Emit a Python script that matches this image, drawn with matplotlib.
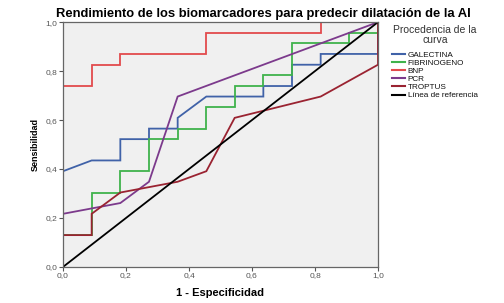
import matplotlib.pyplot as plt

# ROC curve points (1 - specificity, sensitivity)
galectina_x = [0, 0, 0.091, 0.182, 0.182, 0.273, 0.273, 0.364, 0.364, 0.455, 0.636, 0.636, 0.727, 0.727, 0.818, 0.818, 1, 1]
galectina_y = [0, 0.391, 0.435, 0.435, 0.522, 0.522, 0.565, 0.565, 0.609, 0.696, 0.696, 0.739, 0.739, 0.826, 0.826, 0.870, 0.870, 1]

fibrinogeno_x = [0, 0, 0.091, 0.091, 0.182, 0.182, 0.273, 0.273, 0.364, 0.364, 0.455, 0.455, 0.545, 0.545, 0.636, 0.636, 0.727, 0.727, 0.909, 0.909, 1, 1]
fibrinogeno_y = [0, 0.130, 0.130, 0.304, 0.304, 0.391, 0.391, 0.522, 0.522, 0.565, 0.565, 0.652, 0.652, 0.739, 0.739, 0.783, 0.783, 0.913, 0.913, 0.957, 0.957, 1]

bnp_x = [0, 0, 0.091, 0.091, 0.182, 0.182, 0.455, 0.455, 0.818, 0.818, 1]
bnp_y = [0, 0.739, 0.739, 0.826, 0.826, 0.870, 0.870, 0.957, 0.957, 1, 1]

pcr_x = [0, 0, 0.182, 0.273, 0.364, 1]
pcr_y = [0, 0.217, 0.261, 0.348, 0.696, 1]

troptus_x = [0, 0, 0.091, 0.091, 0.182, 0.364, 0.455, 0.545, 0.818, 1, 1]
troptus_y = [0, 0.130, 0.130, 0.217, 0.304, 0.348, 0.391, 0.609, 0.696, 0.826, 1]

ref_x = [0, 1]
ref_y = [0, 1]

curves = [
    ("GALECTINA", galectina_x, galectina_y, "#4062a8"),
    ("FIBRINOGENO", fibrinogeno_x, fibrinogeno_y, "#3fb34c"),
    ("BNP", bnp_x, bnp_y, "#e24a4d"),
    ("PCR", pcr_x, pcr_y, "#7c3a8c"),
    ("TROPTUS", troptus_x, troptus_y, "#9a2331"),
    ("Línea de referencia", ref_x, ref_y, "black"),
]

ticks = [0, 0.2, 0.4, 0.6, 0.8, 1.0]
tick_labels = ["0,0", "0,2", "0,4", "0,6", "0,8", "1,0"]

plt.rcParams['font.family'] = ['Liberation Sans', 'DejaVu Sans']

fig = plt.figure(figsize=(5.04, 3.03), dpi=100)
ax = fig.add_axes([0.125, 0.119, 0.625, 0.808])
ax.set_facecolor("#f0f0f0")

for name, xs, ys, col in curves:
    ax.plot(xs, ys, color=col, lw=1.3, label=name, solid_joinstyle="miter")

ax.set_xlim(0, 1)
ax.set_ylim(0, 1)
ax.set_xticks(ticks)
ax.set_xticklabels(tick_labels)
ax.set_yticks(ticks)
ax.set_yticklabels(tick_labels)
ax.tick_params(labelsize=6, colors="#555555", length=3, width=0.8, pad=1)
for s in ax.spines.values():
    s.set_color("#666666")
    s.set_linewidth(0.9)

ax.set_xlabel("1 - Especificidad", fontsize=8, fontweight="bold", labelpad=6)
ax.set_ylabel("Sensibilidad", fontsize=6.5, fontweight="bold", labelpad=4)
fig.text(0.522, 0.955, "Rendimiento de los biomarcadores para predecir dilatación de la AI",
         ha="center", va="center", fontsize=9.4, fontweight="bold")

leg = ax.legend(loc="upper left", bbox_to_anchor=(1.035, 1.0), frameon=False,
                title="Procedencia de la\ncurva", fontsize=5.9, title_fontsize=7.5,
                handlelength=1.6, handletextpad=0.3, labelspacing=0.05,
                borderaxespad=0.0)
leg._legend_box.align = "center"
leg._legend_box.sep = 4
leg.get_title().set_color("#333333")
leg.get_title().set_multialignment("center")
leg.get_title().set_linespacing(1.0)
for txt in leg.get_texts():
    txt.set_color("#111111")
for line in leg.get_lines():
    line.set_linewidth(1.5)

fig.savefig("out.png", dpi=100)
